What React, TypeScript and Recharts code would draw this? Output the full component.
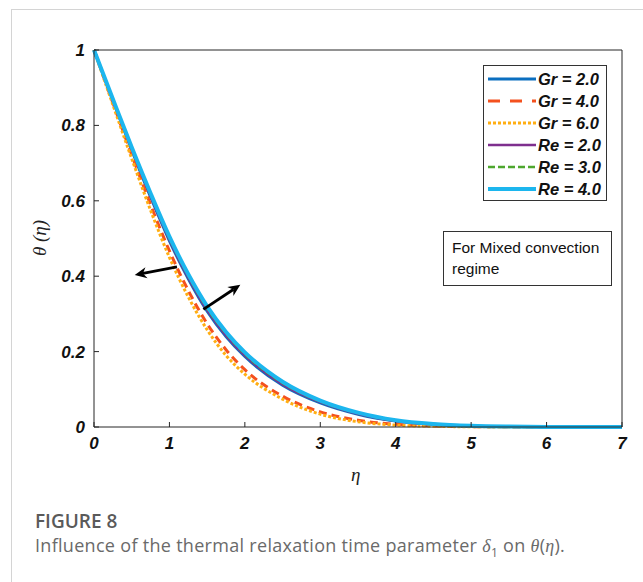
import React from 'react';
import { LineChart, Line, XAxis, YAxis, ReferenceLine } from 'recharts';

// similarity variable and the six temperature profiles
const eta = [0, 0.25, 0.5, 0.75, 1, 1.25, 1.5, 1.75, 2, 2.5, 3, 3.5, 4, 4.5, 5, 5.5, 6, 7];
const gr2 = [1, 0.866, 0.735, 0.61, 0.494, 0.393, 0.307, 0.24, 0.187, 0.111, 0.064, 0.034, 0.016, 0.007, 0.0025, 0.001, 0.0003, 0];
const gr4 = [1, 0.86, 0.722, 0.59, 0.467, 0.362, 0.274, 0.205, 0.152, 0.082, 0.04, 0.018, 0.007, 0.003, 0.001, 0.0003, 0, 0];
const gr6 = [1, 0.855, 0.712, 0.575, 0.45, 0.345, 0.258, 0.19, 0.14, 0.074, 0.034, 0.014, 0.005, 0.002, 0.0005, 0.0002, 0, 0];
const re2 = [1, 0.867, 0.737, 0.613, 0.497, 0.396, 0.31, 0.243, 0.19, 0.113, 0.066, 0.035, 0.016, 0.007, 0.0025, 0.001, 0.0003, 0];
const re3 = [1, 0.868, 0.74, 0.617, 0.501, 0.401, 0.315, 0.248, 0.194, 0.117, 0.068, 0.037, 0.017, 0.0075, 0.0028, 0.001, 0.0003, 0];
const re4 = [1, 0.87, 0.742, 0.62, 0.505, 0.405, 0.32, 0.252, 0.198, 0.12, 0.07, 0.038, 0.018, 0.008, 0.003, 0.001, 0.0003, 0];

const xTicks = [0, 1, 2, 3, 4, 5, 6, 7];
const yTicks = [0, 0.2, 0.4, 0.6, 0.8, 1];

// annotation arrows (tail -> head) in data units
const arrowTails = [{ eta: 1.1, theta: 0.425 }, { eta: 1.45, theta: 0.312 }];
const arrowHeads = [{ eta: 0.54, theta: 0.403 }, { eta: 1.94, theta: 0.377 }];

const series = [
  { key: 'gr2', name: 'Gr = 2.0', color: '#0b6fc0', width: 3, dash: undefined, legendDash: undefined },
  { key: 'gr4', name: 'Gr = 4.0', color: '#f4511e', width: 3, dash: '8 5', legendDash: '12 10' },
  { key: 'gr6', name: 'Gr = 6.0', color: '#ffae12', width: 3, dash: '3 2', legendDash: '3 2' },
  { key: 're2', name: 'Re = 2.0', color: '#7e2f8e', width: 2.5, dash: undefined, legendDash: undefined },
  { key: 're3', name: 'Re = 3.0', color: '#4ea72e', width: 2.5, dash: '6 3', legendDash: '7 3' },
  { key: 're4', name: 'Re = 4.0', color: '#1cb6ee', width: 4, dash: undefined, legendDash: undefined },
];

const data = eta.map((e, i) => ({ eta: e, gr2: gr2[i], gr4: gr4[i], gr6: gr6[i], re2: re2[i], re3: re3[i], re4: re4[i] }));

const axisColor = '#262626';
const tickFont = {
  fill: '#111',
  fontSize: 17,
  fontWeight: 700,
  fontStyle: 'italic',
  fontFamily: '"Liberation Sans", Arial, sans-serif',
};

function Arrow(props: any) {
  const { x1, y1, x2, y2 } = props;
  const dx = x2 - x1;
  const dy = y2 - y1;
  const len = Math.sqrt(dx * dx + dy * dy) || 1;
  const ux = dx / len;
  const uy = dy / len;
  const hl = 12;
  const hw = 5.5;
  const bx = x2 - ux * hl;
  const by = y2 - uy * hl;
  const mx = x2 - ux * hl * 0.7;
  const my = y2 - uy * hl * 0.7;
  const pts = `${x2},${y2} ${bx - uy * hw},${by + ux * hw} ${mx},${my} ${bx + uy * hw},${by - ux * hw}`;
  return (
    <g>
      <line x1={x1} y1={y1} x2={mx} y2={my} stroke="#000" strokeWidth={2.8} />
      <polygon points={pts} fill="#000" />
    </g>
  );
}

function LegendBox() {
  return (
    <div
      style={{
        position: 'absolute',
        left: 483,
        top: 65,
        width: 124,
        height: 136,
        border: '1px solid #333',
        background: '#fff',
        boxSizing: 'border-box',
      }}
    >
      {series.map((s, i) => (
        <div key={s.key} style={{ position: 'absolute', left: 0, top: 1.5 + i * 22, height: 22, width: '100%' }}>
          <svg width={50} height={22} style={{ position: 'absolute', left: 4, top: 0 }}>
            <line x1={0} y1={11} x2={48} y2={11} stroke={s.color} strokeWidth={s.width} strokeDasharray={s.legendDash} />
          </svg>
          <span
            style={{
              position: 'absolute',
              left: 54,
              top: 0,
              lineHeight: '22px',
              fontSize: 16.5,
              fontWeight: 700,
              fontStyle: 'italic',
              fontFamily: '"Liberation Sans", Arial, sans-serif',
              color: '#111',
              whiteSpace: 'nowrap',
            }}
          >
            {s.name}
          </span>
        </div>
      ))}
    </div>
  );
}

export default function App() {
  return (
    <div style={{ position: 'absolute', left: 0, top: 0, width: 643, height: 582, background: '#fff', overflow: 'hidden' }}>
      <div
        style={{
          position: 'absolute',
          left: 11,
          top: 9,
          width: 640,
          height: 580,
          borderLeft: '1px solid #d4d4d4',
          borderTop: '1px solid #d4d4d4',
        }}
      />
      <div style={{ position: 'absolute', left: 0, top: 0 }}>
        <LineChart width={643} height={500} data={data} margin={{ top: 49, right: 20, left: 0, bottom: 0 }}>
          <XAxis
            dataKey="eta"
            type="number"
            domain={[0, 7]}
            ticks={xTicks}
            height={73}
            tickSize={-5}
            tickMargin={15}
            tick={tickFont}
            stroke={axisColor}
            interval={0}
          />
          <XAxis
            xAxisId="top"
            orientation="top"
            type="number"
            domain={[0, 7]}
            ticks={xTicks}
            height={1}
            tickSize={-5}
            tick={false}
            stroke={axisColor}
            interval={0}
          />
          <YAxis
            type="number"
            domain={[0, 1]}
            ticks={yTicks}
            width={94}
            tickSize={-5}
            tickMargin={14}
            tick={tickFont}
            stroke={axisColor}
            interval={0}
          />
          <YAxis
            yAxisId="right"
            orientation="right"
            type="number"
            domain={[0, 1]}
            ticks={yTicks}
            width={1}
            tickSize={-5}
            tick={false}
            stroke={axisColor}
            interval={0}
          />
          {series.map((s) => (
            <Line
              key={s.key}
              type="monotone"
              dataKey={s.key}
              name={s.name}
              stroke={s.color}
              strokeWidth={s.width}
              strokeDasharray={s.dash}
              dot={false}
              activeDot={false}
              isAnimationActive={false}
            />
          ))}
          {arrowTails.map((t, i) => (
            <ReferenceLine
              key={'arrow' + i}
              segment={[
                { x: t.eta, y: t.theta },
                { x: arrowHeads[i].eta, y: arrowHeads[i].theta },
              ]}
              ifOverflow="visible"
              shape={Arrow}
            />
          ))}
        </LineChart>
      </div>

      <LegendBox />

      <div
        style={{
          position: 'absolute',
          left: 443,
          top: 231,
          width: 169,
          height: 55,
          border: '1px solid #333',
          boxSizing: 'border-box',
          background: '#fff',
          padding: '5px 0 0 8px',
          fontFamily: '"Liberation Sans", Arial, sans-serif',
          fontSize: 15.5,
          lineHeight: '21px',
          color: '#111',
        }}
      >
        For Mixed convection
        <br />
        regime
      </div>

      <div
        style={{
          position: 'absolute',
          left: 351,
          top: 464,
          fontFamily: '"Liberation Serif", serif',
          fontStyle: 'italic',
          fontSize: 19,
          color: '#222',
        }}
      >
        η
      </div>
      <div
        style={{
          position: 'absolute',
          left: 40,
          top: 238,
          transform: 'translate(-50%, -50%) rotate(-90deg)',
          fontFamily: '"Liberation Serif", serif',
          fontStyle: 'italic',
          fontSize: 19,
          color: '#222',
          whiteSpace: 'nowrap',
        }}
      >
        θ (η)
      </div>

      <div
        style={{
          position: 'absolute',
          left: 35,
          top: 508,
          fontFamily: '"Open Sans", "Noto Sans", sans-serif',
          fontWeight: 600,
          fontSize: 19,
          color: '#5a5a5a',
        }}
      >
        FIGURE 8
      </div>
      <div
        style={{
          position: 'absolute',
          left: 35,
          top: 533,
          fontFamily: '"Open Sans", "Noto Sans", sans-serif',
          fontSize: 18,
          letterSpacing: 0.3,
          color: '#6a6a6a',
          whiteSpace: 'nowrap',
        }}
      >
        Influence of the thermal relaxation time parameter{' '}
        <span style={{ fontFamily: '"Liberation Serif", serif', fontStyle: 'italic' }}>δ</span>
        <sub style={{ fontSize: 12 }}>1</sub> on{' '}
        <span style={{ fontFamily: '"Liberation Serif", serif', fontStyle: 'italic' }}>θ</span>(
        <span style={{ fontFamily: '"Liberation Serif", serif', fontStyle: 'italic' }}>η</span>).
      </div>
    </div>
  );
}
